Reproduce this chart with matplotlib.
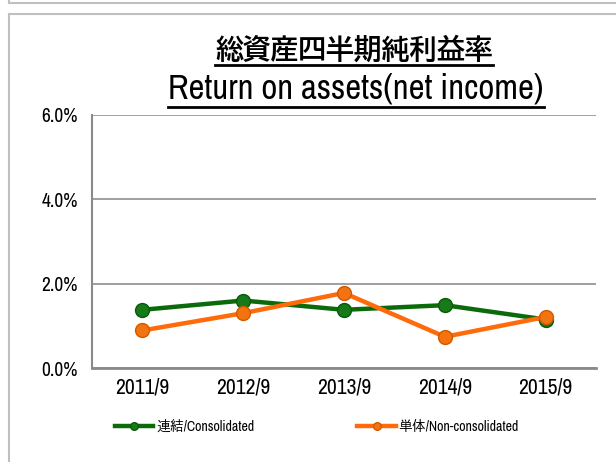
import matplotlib
matplotlib.use("Agg")
import matplotlib.pyplot as plt
from matplotlib.lines import Line2D
from matplotlib.ticker import FuncFormatter

periods = ["2011/9", "2012/9", "2013/9", "2014/9", "2015/9"]
consolidated = [1.38, 1.60, 1.38, 1.49, 1.15]
non_consolidated = [0.89, 1.30, 1.78, 0.74, 1.21]
label_cons = "連結/Consolidated"
label_non = "単体/Non-consolidated"
title_jp = "総資産四半期純利益率"
title_en = "Return on assets(net income)"
y_ticks = [0, 2, 4, 6]

W, H = 616, 462
fonts = ["Archivo Narrow", "IPAPGothic", "Noto Sans CJK JP", "DejaVu Sans"]
plt.rcParams["font.family"] = fonts

fig = plt.figure(figsize=(W / 100, H / 100), dpi=100, facecolor="white")
ax = fig.add_axes([92 / W, 1 - 368 / H, (596 - 92) / W, (368 - 115) / H])

x = list(range(len(periods)))
ax.plot(x, consolidated, color="#0b6b0b", lw=3.2, marker="o", ms=10,
        mfc="#157a17", mec="#0a5a0a", mew=1, label=label_cons, zorder=3)
ax.plot(x, non_consolidated, color="#ff6a0a", lw=3.2, marker="o", ms=10,
        mfc="#f2730f", mec="#d25a00", mew=1, label=label_non, zorder=4)

ax.set_xlim(-0.5, len(periods) - 0.5)
ax.set_ylim(0, 6)
ax.set_yticks(y_ticks)
ax.yaxis.set_major_formatter(FuncFormatter(lambda v, p: "{:.1f}%".format(v)))
ax.set_xticks(x)
ax.set_xticklabels(periods)
ax.tick_params(axis="y", length=0, pad=10, labelsize=14)
ax.tick_params(axis="x", length=0, pad=7, labelsize=15.5)
ax.grid(axis="y", color="#8f8f8f", lw=1.2)
ax.set_axisbelow(True)
for s in ["top", "right"]:
    ax.spines[s].set_visible(False)
ax.spines["left"].set_color("#8a8a8a")
ax.spines["left"].set_linewidth(1.5)
ax.spines["bottom"].set_color("#8a8a8a")
ax.spines["bottom"].set_linewidth(2)

# 枠線
frame = "#c0c0c0"
fig.add_artist(Line2D([9 / W, 1], [1 - 3 / H, 1 - 3 / H], color=frame, lw=1.5))
fig.add_artist(Line2D([9 / W, 9 / W], [1, 1 - 3 / H], color=frame, lw=1.5))
fig.add_artist(Line2D([9 / W, 1], [1 - 14 / H, 1 - 14 / H], color=frame, lw=1.5))
fig.add_artist(Line2D([9 / W, 9 / W], [0, 1 - 14 / H], color=frame, lw=1.5))

t1 = fig.text(354 / W, 1 - 48 / H, title_jp, ha="center", va="center",
              fontsize=20, fontweight="bold", family=["BIZ UDPGothic", "IPAPGothic"])
t2 = fig.text(356 / W, 1 - 89 / H, title_en, ha="center", va="center",
              fontsize=25, family=fonts)

leg = fig.legend(loc="center left", bbox_to_anchor=(102 / W, 1 - 427 / H),
                 ncol=2, frameon=False, fontsize=10, handlelength=2.8,
                 handletextpad=0.2, columnspacing=7.4, markerscale=0.55)

# タイトルの下線
fig.canvas.draw()
r = fig.canvas.get_renderer()
for t, off in [(t1, 3), (t2, 2)]:
    bb = t.get_window_extent(r)
    yy = (bb.y0 - off) / H
    fig.add_artist(Line2D([bb.x0 / W, bb.x1 / W], [yy, yy], color="black", lw=2))

fig.savefig("out.png", dpi=100, facecolor="white")
